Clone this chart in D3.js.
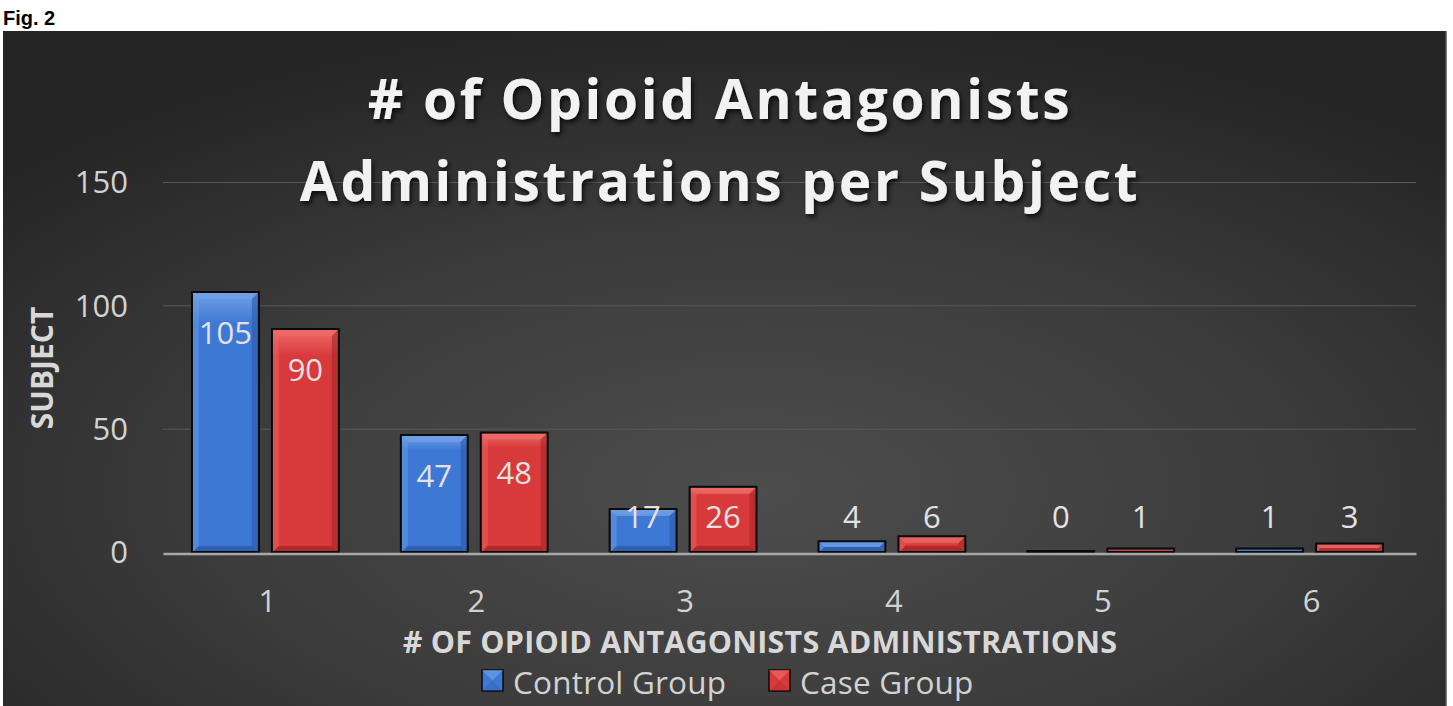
<!DOCTYPE html>
<html>
<head>
<meta charset="utf-8">
<script src="https://cdn.jsdelivr.net/npm/d3@7"></script>
<style>
  html, body { margin: 0; padding: 0; background: #ffffff; }
  svg { display: block; }
</style>
</head>
<body>
<svg id="chart" width="1453" height="706"></svg>
<script>
// Administrations per subject (x categories) and counts per group
const categories = ["1", "2", "3", "4", "5", "6"];
const seriesNames = ["Control Group", "Case Group"];
const controlValues = [105, 47, 17, 4, 0, 1];
const caseValues = [90, 48, 26, 6, 1, 3];
const yTicks = [0, 50, 100, 150];
const titleLines = ["# of Opioid Antagonists", "Administrations per Subject"];
const xAxisTitle = "# OF OPIOID ANTAGONISTS ADMINISTRATIONS";
const yAxisTitle = "SUBJECT";

const svg = d3.select("#chart");
const panel = { x: 3, y: 31, w: 1443, h: 675 };
const plot = { left: 163, right: 1416, top: 182, bottom: 552 };

const defs = svg.append("defs");

// Dark panel background with a soft central glow
const bg = defs.append("radialGradient").attr("id", "bgGrad")
  .attr("cx", "52%").attr("cy", "68%").attr("r", "70%");
bg.append("stop").attr("offset", "0%").attr("stop-color", "#4d4d4d");
bg.append("stop").attr("offset", "55%").attr("stop-color", "#3b3b3b");
bg.append("stop").attr("offset", "100%").attr("stop-color", "#252525");

// Title shadow
const shadow = defs.append("filter").attr("id", "titleShadow")
  .attr("x", "-10%").attr("y", "-30%").attr("width", "120%").attr("height", "160%");
shadow.append("feDropShadow").attr("dx", 2).attr("dy", 3).attr("stdDeviation", 2.5)
  .attr("flood-color", "#000").attr("flood-opacity", 0.75);

// Bar gradients per series
const palette = {
  "Control Group": { base: "#3d78d4", light: "#6f9fe6", dark: "#2a5aa8" },
  "Case Group": { base: "#d8393a", light: "#ec6a68", dark: "#a82628" }
};
seriesNames.forEach((s, i) => {
  const c = palette[s];
  const g = defs.append("linearGradient").attr("id", "barGrad" + i)
    .attr("x1", 0).attr("y1", 0).attr("x2", 0).attr("y2", 1);
  g.append("stop").attr("offset", "0%").attr("stop-color", c.light);
  g.append("stop").attr("offset", "12%").attr("stop-color", c.base);
  g.append("stop").attr("offset", "100%").attr("stop-color", c.base);
});

// Page label
svg.append("text").attr("x", 3).attr("y", 25)
  .attr("font-family", "Liberation Sans, Arial, sans-serif")
  .attr("font-weight", "bold").attr("font-size", 20).attr("fill", "#000")
  .text("Fig. 2");

svg.append("rect").attr("x", panel.x).attr("y", panel.y)
  .attr("width", panel.w).attr("height", panel.h)
  .attr("fill", "url(#bgGrad)");
svg.append("line").attr("x1", panel.x + panel.w).attr("x2", panel.x + panel.w)
  .attr("y1", panel.y).attr("y2", panel.y + panel.h)
  .attr("stroke", "#555").attr("stroke-width", 1.5);

// Scales
const y = d3.scaleLinear().domain([0, 150]).range([plot.bottom, plot.top]);
const x = d3.scaleBand().domain(categories).range([plot.left, plot.right]).padding(0);
const xInner = d3.scaleBand().domain(seriesNames)
  .range([x.bandwidth() * 0.1435, x.bandwidth() * 0.8373])
  .paddingInner(0.1875).paddingOuter(0);

const fontMain = "Open Sans, Carlito, Calibri, sans-serif";

// Gridlines + y tick labels via axis
const yAxis = d3.axisLeft(y).tickValues(yTicks).tickSize(-(plot.right - plot.left)).tickPadding(35);
const yG = svg.append("g").attr("transform", `translate(${plot.left},0)`).call(yAxis);
yG.select(".domain").remove();
yG.selectAll(".tick line").attr("stroke", "#5a5a5a").attr("stroke-width", 1)
  .filter(d => d === 0).remove();
yG.selectAll(".tick text").attr("fill", "#d2d2d2").attr("font-size", 31)
  .attr("font-family", fontMain).attr("dy", "0.35em");

// Bars
const rows = categories.map((c, i) => ({ cat: c, values: [controlValues[i], caseValues[i]] }));
const groups = svg.append("g").selectAll("g").data(rows).join("g")
  .attr("transform", d => `translate(${x(d.cat)},0)`);

groups.each(function(row) {
  const g = d3.select(this);
  row.values.forEach((v, si) => {
    const name = seriesNames[si];
    const c = palette[name];
    const bx = xInner(name), bw = xInner.bandwidth();
    const top = y(v), h = y(0) - y(v);
    const bar = g.append("g");
    if (h > 0) {
      bar.append("rect").attr("x", bx).attr("y", top).attr("width", bw).attr("height", h)
        .attr("fill", `url(#barGrad${si})`);
    }
    // bevel edges
    const b = Math.min(6, h / 2);
    if (h > 4) {
      bar.append("path").attr("d", `M${bx},${top}L${bx + bw},${top}L${bx + bw - b},${top + b}L${bx + b},${top + b}Z`)
        .attr("fill", c.light).attr("opacity", 0.8);
      bar.append("path").attr("d", `M${bx},${top}L${bx + b},${top + b}L${bx + b},${top + h - b}L${bx},${top + h}Z`)
        .attr("fill", c.light).attr("opacity", 0.45);
      bar.append("path").attr("d", `M${bx + bw},${top}L${bx + bw - b},${top + b}L${bx + bw - b},${top + h - b}L${bx + bw},${top + h}Z`)
        .attr("fill", c.dark).attr("opacity", 0.6);
      bar.append("path").attr("d", `M${bx},${top + h}L${bx + b},${top + h - b}L${bx + bw - b},${top + h - b}L${bx + bw},${top + h}Z`)
        .attr("fill", c.dark).attr("opacity", 0.8);
    }
    // dark outline sits just outside the fill so thin bars keep their colour
    const o = 1;
    bar.append("path")
      .attr("d", `M${bx - o},${top - o}H${bx + bw + o}V${top + h}H${bx - o}Z`)
      .attr("fill", "none").attr("stroke", "#0a0a0a").attr("stroke-width", 2)
      .attr("stroke-linejoin", "round");
    // value label: near top inside, or above short bars
    const ly = Math.min(top + 40, y(0) - 35);
    g.append("text").attr("x", bx + bw / 2).attr("y", ly).attr("dy", "0.35em")
      .attr("text-anchor", "middle").attr("font-family", fontMain).attr("font-size", 31)
      .attr("fill", "#e2e2e2").text(v);
  });
});

// X axis baseline and tick labels
const xAxis = d3.axisBottom(x).tickSize(0).tickPadding(36);
const xG = svg.append("g").attr("transform", `translate(0,${plot.bottom + 1.5})`).call(xAxis);
xG.select(".domain").attr("stroke", "#a8a8a8").attr("stroke-width", 2.5);
xG.selectAll(".tick text").attr("fill", "#d2d2d2").attr("font-size", 31)
  .attr("font-family", fontMain);

// Title
const title = svg.append("text").attr("text-anchor", "middle")
  .attr("font-family", fontMain).attr("font-weight", "bold").attr("font-size", 55)
  .attr("letter-spacing", 2.7).attr("fill", "#f2f2f2").attr("filter", "url(#titleShadow)");
titleLines.forEach((t, i) => {
  title.append("tspan").attr("x", 720).attr("y", 119 + i * 82).text(t);
});

// Axis titles
svg.append("text").attr("x", 760).attr("y", 652.5).attr("text-anchor", "middle")
  .attr("font-family", fontMain).attr("font-weight", "bold").attr("font-size", 30.5)
  .attr("letter-spacing", 0.2).attr("fill", "#d8d8d8").text(xAxisTitle);
svg.append("text").attr("transform", `translate(53,368) rotate(-90)`)
  .attr("text-anchor", "middle").attr("font-family", fontMain).attr("font-weight", "bold")
  .attr("font-size", 30).attr("fill", "#d8d8d8").text(yAxisTitle);

// Legend
const legendItems = [{ name: seriesNames[0], x: 482, i: 0 }, { name: seriesNames[1], x: 769, i: 1 }];
const lg = svg.append("g").selectAll("g").data(legendItems).join("g")
  .attr("transform", d => `translate(${d.x},670)`);
lg.append("rect").attr("width", 21).attr("height", 21)
  .attr("fill", d => palette[d.name].base).attr("stroke", "#0a0a0a").attr("stroke-width", 1.5);
lg.append("path").attr("d", "M0,0L21,0L10.5,10.5Z").attr("fill", d => palette[d.name].light).attr("opacity", 0.7);
lg.append("path").attr("d", "M0,21L21,21L10.5,10.5Z").attr("fill", d => palette[d.name].dark).attr("opacity", 0.3);
lg.append("text").attr("x", 31).attr("y", 24)
  .attr("font-family", fontMain).attr("font-size", 31.5).attr("letter-spacing", 0.2)
  .attr("fill", "#d2d2d2")
  .text(d => d.name);
</script>
</body>
</html>
